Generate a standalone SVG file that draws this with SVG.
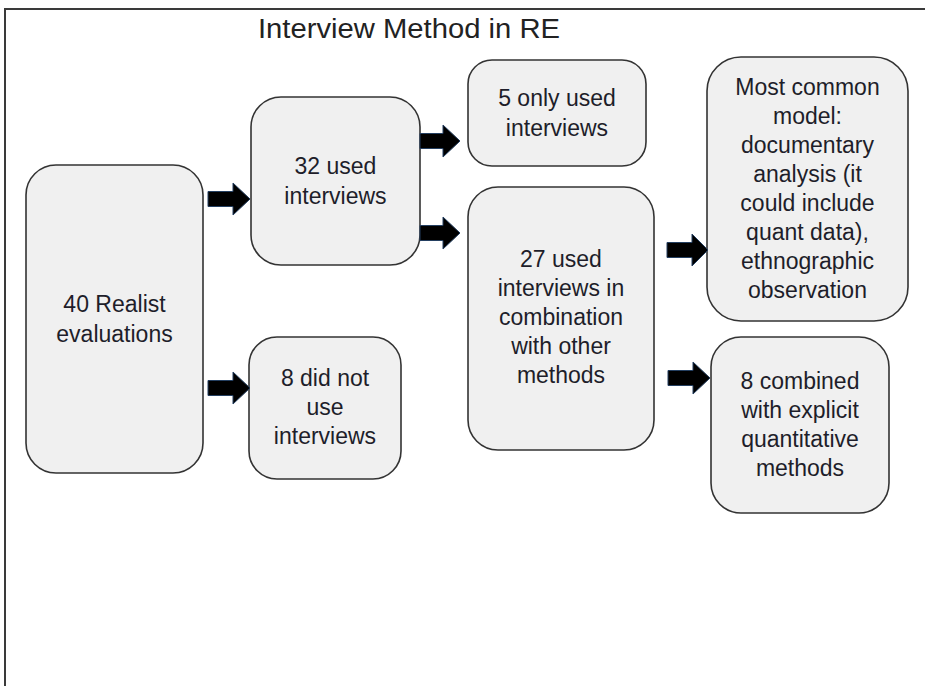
<svg xmlns="http://www.w3.org/2000/svg" width="925" height="686" viewBox="0 0 925 686">
<style>
.bg{fill:#ffffff}
.frame{fill:none;stroke:#3a3a3a;stroke-width:2}
.box{fill:#f0f0f0;stroke:#333333;stroke-width:1.6}
.t{font-family:"Liberation Sans",Arial,sans-serif;font-size:23px;fill:#1e1e2a;text-anchor:middle}
.title{font-family:"Liberation Sans",Arial,sans-serif;font-size:27px;fill:#222222;text-anchor:middle}
.arr{fill:#000000;stroke:#243f60;stroke-width:1}
</style>
<rect class="bg" x="0" y="0" width="925" height="686"/>
<rect class="frame" x="5" y="9" width="940" height="700"/>
<text class="title" x="409" y="38" textLength="302" lengthAdjust="spacingAndGlyphs">Interview Method in RE</text>

<g id="n40">
<rect class="box" x="26" y="165" width="177" height="308" rx="30" ry="30"/>
<text class="t" x="114.5" y="312">40 Realist</text>
<text class="t" x="114.5" y="342">evaluations</text>
</g>
<g id="n32">
<rect class="box" x="251" y="97" width="169" height="168" rx="30" ry="30"/>
<text class="t" x="335.5" y="174">32 used</text>
<text class="t" x="335.5" y="204">interviews</text>
</g>
<g id="n8not">
<rect class="box" x="249" y="337" width="152" height="142" rx="28" ry="28"/>
<text class="t" x="325" y="386">8 did not</text>
<text class="t" x="325" y="415">use</text>
<text class="t" x="325" y="444">interviews</text>
</g>
<g id="n5">
<rect class="box" x="468" y="60" width="178" height="106" rx="24" ry="24"/>
<text class="t" x="557" y="106">5 only used</text>
<text class="t" x="557" y="136">interviews</text>
</g>
<g id="n27">
<rect class="box" x="468" y="187" width="186" height="263" rx="30" ry="30"/>
<text class="t" x="561" y="267">27 used</text>
<text class="t" x="561" y="296">interviews in</text>
<text class="t" x="561" y="325">combination</text>
<text class="t" x="561" y="354">with other</text>
<text class="t" x="561" y="383">methods</text>
</g>
<g id="nmost">
<rect class="box" x="707" y="57" width="201" height="264" rx="34" ry="34"/>
<text class="t" x="807.5" y="95">Most common</text>
<text class="t" x="807.5" y="124">model:</text>
<text class="t" x="807.5" y="153">documentary</text>
<text class="t" x="807.5" y="182">analysis (it</text>
<text class="t" x="807.5" y="211">could include</text>
<text class="t" x="807.5" y="240">quant data),</text>
<text class="t" x="807.5" y="269">ethnographic</text>
<text class="t" x="807.5" y="298">observation</text>
</g>
<g id="n8comb">
<rect class="box" x="711" y="337" width="178" height="176" rx="30" ry="30"/>
<text class="t" x="800" y="389">8 combined</text>
<text class="t" x="800" y="418">with explicit</text>
<text class="t" x="800" y="447">quantitative</text>
<text class="t" x="800" y="476">methods</text>
</g>

<g id="connectors">
<path class="arr" d="M208,191.5 H233 V183 L250,199 L233,215 V206.5 H208 Z"/>
<path class="arr" d="M208,380.5 H233 V372 L250,388 L233,404 V395.5 H208 Z"/>
<path class="arr" d="M420,133.5 H443 V125 L460,141 L443,157 V148.5 H420 Z"/>
<path class="arr" d="M420,225.5 H443 V217 L460,233 L443,249 V240.5 H420 Z"/>
<path class="arr" d="M667,242.5 H692 V234 L708,250 L692,266 V257.5 H667 Z"/>
<path class="arr" d="M668,370.5 H693 V362 L710,378 L693,394 V385.5 H668 Z"/>
</g>
</svg>
